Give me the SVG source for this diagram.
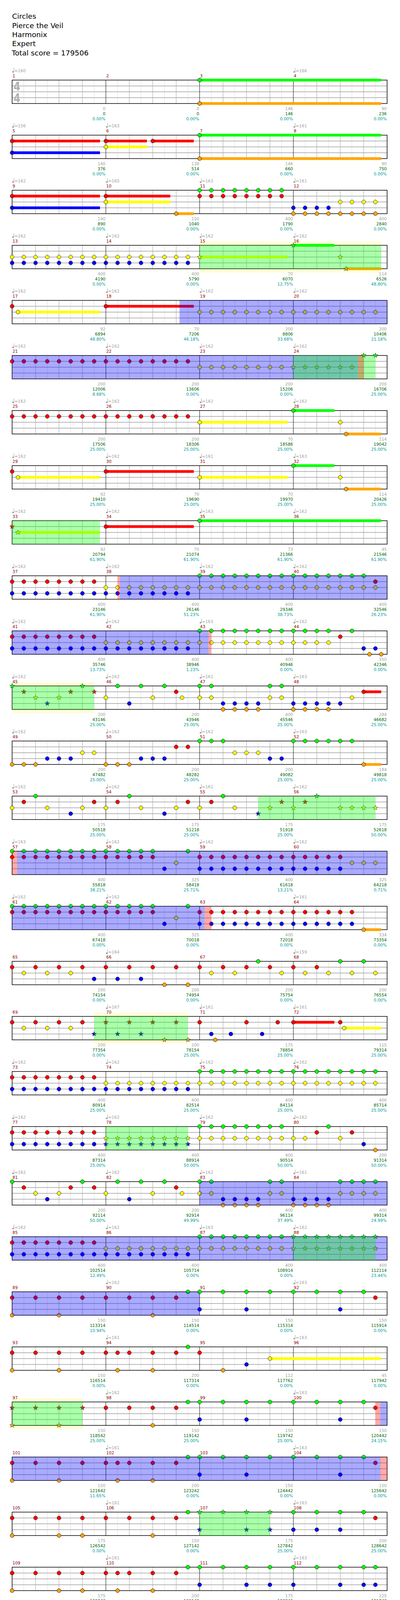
<svg xmlns="http://www.w3.org/2000/svg" width="1024" height="5563" viewBox="0 0 1024 5563">
<style>
text{font-family:"DejaVu Sans",Verdana,sans-serif;font-size:10.5px}
.h{font-size:18.5px;fill:#000}
.ts{font-size:32px;fill:#b0b0b0;font-weight:bold}
.t{fill:#a0a0a0}
.m{fill:#8b0000}
.a{fill:#a0a0a0;text-anchor:end}
.b{fill:#006400;text-anchor:end}
.c{fill:#009b9b;text-anchor:end}
.G{fill:#0f0}.R{fill:#f00}.Y{fill:#ff0}.B{fill:#00f}.O{fill:#ffa500}
.pG{fill:url(#pG)}.pR{fill:url(#pR)}.pY{fill:url(#pY)}.pB{fill:url(#pB)}.pO{fill:url(#pO)}
.xG{fill:url(#xG)}.xR{fill:url(#xR)}.xY{fill:url(#xY)}.xB{fill:url(#xB)}
.qR{fill:url(#qR)}.qG{fill:url(#qG)}
.og{fill:#0f0;fill-opacity:.333}.ob{fill:#00f;fill-opacity:.333}.op{fill:#f00;fill-opacity:.333}
.yb{fill:#ffffd7}
</style>
<defs>
<circle id="n" r="5" stroke="#000" stroke-width=".8"/>
<polygon id="s" points="0,-6.5 1.53,-2.1 6.18,-2.01 2.47,.8 3.82,5.26 0,2.6 -3.82,5.26 -2.47,.8 -6.18,-2.01 -1.53,-2.1" stroke="#000" stroke-width=".6"/>
<g id="q" fill="#a0a0a0"><ellipse cx="33.5" cy="-21" rx="2.6" ry="2"/><path d="M35.6 -31V-21" stroke="#a0a0a0"/></g>
<pattern id="pG" patternUnits="userSpaceOnUse" x="16" y="-7.5" width="30" height="15"><use href="#n" x="15" y="7.5" fill="#0f0"/></pattern>
<pattern id="pR" patternUnits="userSpaceOnUse" x="16" y="-7.5" width="30" height="15"><use href="#n" x="15" y="7.5" fill="#f00"/></pattern>
<pattern id="pY" patternUnits="userSpaceOnUse" x="16" y="-7.5" width="30" height="15"><use href="#n" x="15" y="7.5" fill="#ff0"/></pattern>
<pattern id="pB" patternUnits="userSpaceOnUse" x="16" y="-7.5" width="30" height="15"><use href="#n" x="15" y="7.5" fill="#00f"/></pattern>
<pattern id="pO" patternUnits="userSpaceOnUse" x="16" y="-7.5" width="30" height="15"><use href="#n" x="15" y="7.5" fill="#ffa500"/></pattern>
<pattern id="xG" patternUnits="userSpaceOnUse" x="16" y="-7.5" width="30" height="15"><use href="#s" x="15" y="7.5" fill="#0f0"/></pattern>
<pattern id="xR" patternUnits="userSpaceOnUse" x="16" y="-7.5" width="30" height="15"><use href="#s" x="15" y="7.5" fill="#f00"/></pattern>
<pattern id="xY" patternUnits="userSpaceOnUse" x="16" y="-7.5" width="30" height="15"><use href="#s" x="15" y="7.5" fill="#ff0"/></pattern>
<pattern id="xB" patternUnits="userSpaceOnUse" x="16" y="-7.5" width="30" height="15"><use href="#s" x="15" y="7.5" fill="#00f"/></pattern>
<pattern id="qR" patternUnits="userSpaceOnUse" x="16" y="-7.5" width="60" height="15"><use href="#n" x="15" y="7.5" fill="#f00"/></pattern>
<pattern id="qG" patternUnits="userSpaceOnUse" x="16" y="-7.5" width="60" height="15"><use href="#n" x="15" y="7.5" fill="#0f0"/></pattern>
<g id="staff">
<rect x="31" width="960" height="60" fill="#fff"/>
<path stroke="#dcdcdc" d="M61 0V60M121 0V60M181 0V60M241 0V60M301 0V60M361 0V60M421 0V60M481 0V60M541 0V60M601 0V60M661 0V60M721 0V60M781 0V60M841 0V60M901 0V60M961 0V60"/>
<path stroke="#a0a0a0" d="M91 0V60M151 0V60M211 0V60M331 0V60M391 0V60M451 0V60M571 0V60M631 0V60M691 0V60M811 0V60M871 0V60M931 0V60"/>
<path stroke="#a0a0a0" stroke-width="1.3" d="M31 15H991M31 30H991M31 45H991"/>
<path stroke="#000" d="M271 0V60M511 0V60M751 0V60"/>
<rect x="31" width="960" height="60" fill="none" stroke="#000" stroke-width="1.5"/>
</g>
</defs>
<rect width="1024" height="5563" fill="#fff"/>
<g id="title">
<text class="h" x="31" y="48">Circles</text>
<text class="h" x="31" y="71.5">Pierce the Veil</text>
<text class="h" x="31" y="95">Harmonix</text>
<text class="h" x="31" y="118">Expert</text>
<text class="h" x="30" y="141.5">Total score = 179506</text>
</g>

<g id="row1" transform="translate(0,205)">
<use href="#staff"/>
<text class="ts" x="35" y="27" textLength="17" lengthAdjust="spacingAndGlyphs">4</text><text class="ts" x="35" y="57" textLength="17" lengthAdjust="spacingAndGlyphs">4</text>
<g class="G"><rect x="511" y="-3.5" width="465" height="7"/><use href="#n" x="511"/></g>
<g class="O" transform="translate(0,60)"><rect x="511" y="-3.5" width="465" height="7"/><use href="#n" x="511"/></g>
<use href="#q"/><use href="#q" x="720"/>
<text class="t" y="-20"><tspan x="37">=160</tspan><tspan x="757">=166</tspan></text>
<text class="m" y="-7"><tspan x="32">1</tspan><tspan x="272">2</tspan><tspan x="512">3</tspan><tspan x="752">4</tspan></text>
<text class="a" y="77"><tspan x="270">0</tspan><tspan x="510">0</tspan><tspan x="750">146</tspan><tspan x="990">90</tspan></text>
<text class="b" y="90"><tspan x="270">0</tspan><tspan x="510">0</tspan><tspan x="750">146</tspan><tspan x="990">236</tspan></text>
<text class="c" y="103"><tspan x="270">0.00%</tspan><tspan x="510">0.00%</tspan><tspan x="750">0.00%</tspan><tspan x="990">0.00%</tspan></text>
</g>

<g id="row2" transform="translate(0,346)">
<use href="#staff"/>
<g class="G"><rect x="511" y="-3.5" width="465" height="7"/><use href="#n" x="511"/></g>
<g class="R" transform="translate(0,15)"><rect x="31" y="-3.5" width="225" height="7"/><rect x="271" y="-3.5" width="105" height="7"/><rect x="391" y="-3.5" width="105" height="7"/><use href="#n" x="31"/><use href="#n" x="271"/><use href="#n" x="391"/></g>
<g class="Y" transform="translate(0,30)"><rect x="271" y="-3.5" width="105" height="7"/><use href="#n" x="271"/></g>
<g class="B" transform="translate(0,45)"><rect x="31" y="-3.5" width="225" height="7"/><use href="#n" x="31"/></g>
<g class="O" transform="translate(0,60)"><rect x="511" y="-3.5" width="465" height="7"/><use href="#n" x="511"/></g>
<use href="#q"/><use href="#q" x="240"/><use href="#q" x="720"/>
<text class="t" y="-20"><tspan x="37">=156</tspan><tspan x="277">=163</tspan><tspan x="757">=161</tspan></text>
<text class="m" y="-7"><tspan x="32">5</tspan><tspan x="272">6</tspan><tspan x="512">7</tspan><tspan x="752">8</tspan></text>
<text class="a" y="77"><tspan x="270">140</tspan><tspan x="510">138</tspan><tspan x="750">146</tspan><tspan x="990">90</tspan></text>
<text class="b" y="90"><tspan x="270">376</tspan><tspan x="510">514</tspan><tspan x="750">660</tspan><tspan x="990">750</tspan></text>
<text class="c" y="103"><tspan x="270">0.00%</tspan><tspan x="510">0.00%</tspan><tspan x="750">0.00%</tspan><tspan x="990">0.00%</tspan></text>
</g>

<g id="row3" transform="translate(0,487)">
<use href="#staff"/>
<g class="G"><rect class="pG" x="496" y="-7" width="240" height="14"/></g>
<g class="R" transform="translate(0,15)"><rect x="31" y="-3.5" width="225" height="7"/><rect x="271" y="-3.5" width="165" height="7"/><use href="#n" x="31"/><use href="#n" x="271"/><rect class="pR" x="496" y="-7" width="240" height="14"/></g>
<g class="Y" transform="translate(0,30)"><rect x="271" y="-3.5" width="165" height="7"/><use href="#n" x="271"/><rect class="pY" x="856" y="-7" width="120" height="14"/></g>
<g class="B" transform="translate(0,45)"><rect x="31" y="-3.5" width="225" height="7"/><use href="#n" x="31"/><rect class="pB" x="736" y="-7" width="120" height="14"/></g>
<g class="O" transform="translate(0,60)"><rect x="451" y="-3.5" width="45" height="7"/><use href="#n" x="451"/><rect class="pO" x="736" y="-7" width="240" height="14"/></g>
<use href="#q"/><use href="#q" x="240"/><use href="#q" x="480"/><use href="#q" x="720"/>
<text class="t" y="-20"><tspan x="37">=162</tspan><tspan x="277">=165</tspan><tspan x="517">=163</tspan><tspan x="757">=161</tspan></text>
<text class="m" y="-7"><tspan x="32">9</tspan><tspan x="272">10</tspan><tspan x="512">11</tspan><tspan x="752">12</tspan></text>
<text class="a" y="77"><tspan x="270">140</tspan><tspan x="510">150</tspan><tspan x="750">400</tspan><tspan x="990">400</tspan></text>
<text class="b" y="90"><tspan x="270">890</tspan><tspan x="510">1040</tspan><tspan x="750">1790</tspan><tspan x="990">2840</tspan></text>
<text class="c" y="103"><tspan x="270">0.00%</tspan><tspan x="510">0.00%</tspan><tspan x="750">0.00%</tspan><tspan x="990">0.00%</tspan></text>
</g>

<g id="row4" transform="translate(0,628)">
<rect class="yb" x="511" y="-10" width="465" height="80"/>
<use href="#staff"/>
<g class="G"><rect x="751" y="-3.5" width="105" height="7"/><use href="#s" x="751"/></g>
<g class="Y" transform="translate(0,30)"><rect class="pY" x="16" y="-7" width="480" height="14"/><rect x="511" y="-3.5" width="225" height="7"/><use href="#s" x="511"/><use href="#s" x="871"/></g>
<g class="B" transform="translate(0,45)"><rect class="pB" x="16" y="-7" width="480" height="14"/></g>
<g class="O" transform="translate(0,60)"><rect x="886" y="-3.5" width="90" height="7"/><use href="#s" x="886"/></g>
<rect class="og" x="511" width="465" height="60"/>
<use href="#q"/><use href="#q" x="240"/><use href="#q" x="480"/><use href="#q" x="720"/>
<text class="t" y="-20"><tspan x="37">=162</tspan><tspan x="277">=162</tspan><tspan x="517">=162</tspan><tspan x="757">=162</tspan></text>
<text class="m" y="-7"><tspan x="32">13</tspan><tspan x="272">14</tspan><tspan x="512">15</tspan><tspan x="752">16</tspan></text>
<text class="a" y="77"><tspan x="270">400</tspan><tspan x="510">400</tspan><tspan x="750">70</tspan><tspan x="990">114</tspan></text>
<text class="b" y="90"><tspan x="270">4190</tspan><tspan x="510">5790</tspan><tspan x="750">6070</tspan><tspan x="990">6526</tspan></text>
<text class="c" y="103"><tspan x="270">0.00%</tspan><tspan x="510">0.00%</tspan><tspan x="750">12.75%</tspan><tspan x="990">48.80%</tspan></text>
</g>

<g id="row5" transform="translate(0,769)">
<use href="#staff"/>
<g class="R" transform="translate(0,15)"><use href="#n" x="31"/><rect x="271" y="-3.5" width="225" height="7"/><use href="#n" x="271"/></g>
<g class="Y" transform="translate(0,30)"><rect x="46" y="-3.5" width="210" height="7"/><use href="#n" x="46"/><rect class="pY" x="496" y="-7" width="480" height="14"/></g>
<rect class="ob" x="459.5" width="531.5" height="60"/>
<use href="#q"/><use href="#q" x="240"/><use href="#q" x="480"/><use href="#q" x="720"/>
<text class="t" y="-20"><tspan x="37">=162</tspan><tspan x="277">=162</tspan><tspan x="517">=162</tspan><tspan x="757">=162</tspan></text>
<text class="m" y="-7"><tspan x="32">17</tspan><tspan x="272">18</tspan><tspan x="512">19</tspan><tspan x="752">20</tspan></text>
<text class="a" y="77"><tspan x="270">92</tspan><tspan x="510">70</tspan><tspan x="750">200</tspan><tspan x="990">200</tspan></text>
<text class="b" y="90"><tspan x="270">6894</tspan><tspan x="510">7206</tspan><tspan x="750">8806</tspan><tspan x="990">10406</tspan></text>
<text class="c" y="103"><tspan x="270">48.80%</tspan><tspan x="510">46.18%</tspan><tspan x="750">33.68%</tspan><tspan x="990">21.18%</tspan></text>
</g>

<g id="row6" transform="translate(0,910)">
<use href="#staff"/>
<g class="G"><use href="#s" x="931"/><use href="#s" x="961"/></g>
<g class="R" transform="translate(0,15)"><rect class="pR" x="16" y="-7" width="480" height="14"/></g>
<g class="Y" transform="translate(0,30)"><rect class="pY" x="496" y="-7" width="240" height="14"/><rect class="xY" x="736" y="-7" width="180" height="14"/></g>
<rect class="ob" x="31" width="885.6" height="60"/><rect class="og" x="751" width="210" height="60"/><rect class="op" x="916.6" width="14.4" height="60"/>
<use href="#q"/><use href="#q" x="240"/><use href="#q" x="480"/><use href="#q" x="720"/>
<text class="t" y="-20"><tspan x="37">=162</tspan><tspan x="277">=162</tspan><tspan x="517">=162</tspan><tspan x="757">=162</tspan></text>
<text class="m" y="-7"><tspan x="32">21</tspan><tspan x="272">22</tspan><tspan x="512">23</tspan><tspan x="752">24</tspan></text>
<text class="a" y="77"><tspan x="270">200</tspan><tspan x="510">200</tspan><tspan x="750">200</tspan><tspan x="990">200</tspan></text>
<text class="b" y="90"><tspan x="270">12006</tspan><tspan x="510">13606</tspan><tspan x="750">15206</tspan><tspan x="990">16706</tspan></text>
<text class="c" y="103"><tspan x="270">8.68%</tspan><tspan x="510">0.00%</tspan><tspan x="750">0.00%</tspan><tspan x="990">25.00%</tspan></text>
</g>

<g id="row7" transform="translate(0,1051)">
<use href="#staff"/>
<g class="G"><rect x="751" y="-3.5" width="105" height="7"/><use href="#n" x="751"/></g>
<g class="R" transform="translate(0,15)"><rect class="pR" x="16" y="-7" width="480" height="14"/></g>
<g class="Y" transform="translate(0,30)"><rect x="511" y="-3.5" width="225" height="7"/><use href="#n" x="511"/><use href="#n" x="871"/></g>
<g class="O" transform="translate(0,60)"><rect x="886" y="-3.5" width="90" height="7"/><use href="#n" x="886"/></g>
<use href="#q"/><use href="#q" x="240"/><use href="#q" x="480"/><use href="#q" x="720"/>
<text class="t" y="-20"><tspan x="37">=162</tspan><tspan x="277">=162</tspan><tspan x="517">=162</tspan><tspan x="757">=162</tspan></text>
<text class="m" y="-7"><tspan x="32">25</tspan><tspan x="272">26</tspan><tspan x="512">27</tspan><tspan x="752">28</tspan></text>
<text class="a" y="77"><tspan x="270">200</tspan><tspan x="510">200</tspan><tspan x="750">70</tspan><tspan x="990">114</tspan></text>
<text class="b" y="90"><tspan x="270">17506</tspan><tspan x="510">18306</tspan><tspan x="750">18586</tspan><tspan x="990">19042</tspan></text>
<text class="c" y="103"><tspan x="270">25.00%</tspan><tspan x="510">25.00%</tspan><tspan x="750">25.00%</tspan><tspan x="990">25.00%</tspan></text>
</g>

<g id="row8" transform="translate(0,1192)">
<use href="#staff"/>
<g class="G"><rect x="751" y="-3.5" width="105" height="7"/><use href="#n" x="751"/></g>
<g class="R" transform="translate(0,15)"><use href="#n" x="31"/><rect x="271" y="-3.5" width="225" height="7"/><use href="#n" x="271"/></g>
<g class="Y" transform="translate(0,30)"><rect x="46" y="-3.5" width="210" height="7"/><use href="#n" x="46"/><rect x="511" y="-3.5" width="225" height="7"/><use href="#n" x="511"/><use href="#n" x="871"/></g>
<g class="O" transform="translate(0,60)"><rect x="886" y="-3.5" width="90" height="7"/><use href="#n" x="886"/></g>
<use href="#q"/><use href="#q" x="240"/><use href="#q" x="480"/><use href="#q" x="720"/>
<text class="t" y="-20"><tspan x="37">=162</tspan><tspan x="277">=162</tspan><tspan x="517">=161</tspan><tspan x="757">=163</tspan></text>
<text class="m" y="-7"><tspan x="32">29</tspan><tspan x="272">30</tspan><tspan x="512">31</tspan><tspan x="752">32</tspan></text>
<text class="a" y="77"><tspan x="270">92</tspan><tspan x="510">70</tspan><tspan x="750">70</tspan><tspan x="990">114</tspan></text>
<text class="b" y="90"><tspan x="270">19410</tspan><tspan x="510">19690</tspan><tspan x="750">19970</tspan><tspan x="990">20426</tspan></text>
<text class="c" y="103"><tspan x="270">25.00%</tspan><tspan x="510">25.00%</tspan><tspan x="750">25.00%</tspan><tspan x="990">25.00%</tspan></text>
</g>

<g id="row9" transform="translate(0,1333)">
<use href="#staff"/>
<g class="G"><rect x="511" y="-3.5" width="465" height="7"/><use href="#n" x="511"/></g>
<g class="R" transform="translate(0,15)"><use href="#s" x="31"/><rect x="271" y="-3.5" width="225" height="7"/><use href="#n" x="271"/></g>
<g class="Y" transform="translate(0,30)"><rect x="46" y="-3.5" width="210" height="7"/><use href="#s" x="46"/></g>
<rect class="og" x="31" width="225" height="60"/>
<use href="#q"/><use href="#q" x="240"/><use href="#q" x="480"/><use href="#q" x="720"/>
<text class="t" y="-20"><tspan x="37">=162</tspan><tspan x="277">=162</tspan><tspan x="517">=163</tspan><tspan x="757">=162</tspan></text>
<text class="m" y="-7"><tspan x="32">33</tspan><tspan x="272">34</tspan><tspan x="512">35</tspan><tspan x="752">36</tspan></text>
<text class="a" y="77"><tspan x="270">92</tspan><tspan x="510">70</tspan><tspan x="750">73</tspan><tspan x="990">45</tspan></text>
<text class="b" y="90"><tspan x="270">20794</tspan><tspan x="510">21074</tspan><tspan x="750">21366</tspan><tspan x="990">21546</tspan></text>
<text class="c" y="103"><tspan x="270">61.90%</tspan><tspan x="510">61.90%</tspan><tspan x="750">61.90%</tspan><tspan x="990">61.90%</tspan></text>
</g>

<g id="row10" transform="translate(0,1474)">
<use href="#staff"/>
<g class="G"><rect class="pG" x="496" y="-7" width="450" height="14"/></g>
<g class="R" transform="translate(0,15)"><rect class="pR" x="16" y="-7" width="240" height="14"/><use href="#n" x="961"/></g>
<g class="Y" transform="translate(0,30)"><rect class="pY" x="256" y="-7" width="720" height="14"/></g>
<g class="B" transform="translate(0,45)"><rect class="pB" x="16" y="-7" width="480" height="14"/></g>
<rect class="op" x="301" width="6" height="60"/><rect class="ob" x="307" width="684" height="60"/>
<use href="#q"/><use href="#q" x="240"/><use href="#q" x="480"/><use href="#q" x="720"/>
<text class="t" y="-20"><tspan x="37">=162</tspan><tspan x="277">=162</tspan><tspan x="517">=162</tspan><tspan x="757">=162</tspan></text>
<text class="m" y="-7"><tspan x="32">37</tspan><tspan x="272">38</tspan><tspan x="512">39</tspan><tspan x="752">40</tspan></text>
<text class="a" y="77"><tspan x="270">400</tspan><tspan x="510">400</tspan><tspan x="750">400</tspan><tspan x="990">400</tspan></text>
<text class="b" y="90"><tspan x="270">23146</tspan><tspan x="510">26146</tspan><tspan x="750">29346</tspan><tspan x="990">32546</tspan></text>
<text class="c" y="103"><tspan x="270">61.90%</tspan><tspan x="510">51.23%</tspan><tspan x="750">38.73%</tspan><tspan x="990">26.23%</tspan></text>
</g>

<g id="row11" transform="translate(0,1615)">
<use href="#staff"/>
<g class="G"><rect class="pG" x="496" y="-7" width="360" height="14"/><use href="#n" x="901"/></g>
<g class="R" transform="translate(0,15)"><rect class="pR" x="16" y="-7" width="240" height="14"/><use href="#n" x="871"/></g>
<g class="Y" transform="translate(0,30)"><rect class="pY" x="256" y="-7" width="600" height="14"/></g>
<g class="B" transform="translate(0,45)"><rect class="pB" x="16" y="-7" width="480" height="14"/><use href="#n" x="931"/><use href="#n" x="961"/></g>
<g class="O" transform="translate(0,60)"><use href="#n" x="946"/><use href="#n" x="976"/></g>
<rect class="ob" x="31" width="502.8" height="60"/><rect class="op" x="533.8" width="7.2" height="60"/>
<use href="#q"/><use href="#q" x="240"/><use href="#q" x="480"/><use href="#q" x="720"/>
<text class="t" y="-20"><tspan x="37">=162</tspan><tspan x="277">=162</tspan><tspan x="517">=163</tspan><tspan x="757">=162</tspan></text>
<text class="m" y="-7"><tspan x="32">41</tspan><tspan x="272">42</tspan><tspan x="512">43</tspan><tspan x="752">44</tspan></text>
<text class="a" y="77"><tspan x="270">400</tspan><tspan x="510">400</tspan><tspan x="750">400</tspan><tspan x="990">350</tspan></text>
<text class="b" y="90"><tspan x="270">35746</tspan><tspan x="510">38946</tspan><tspan x="750">40946</tspan><tspan x="990">42346</tspan></text>
<text class="c" y="103"><tspan x="270">13.73%</tspan><tspan x="510">1.23%</tspan><tspan x="750">0.00%</tspan><tspan x="990">0.00%</tspan></text>
</g>

<g id="row12" transform="translate(0,1756)">
<rect class="yb" x="31" y="-10" width="210" height="80"/>
<use href="#staff"/>
<g class="G"><use href="#s" x="31"/><use href="#s" x="211"/><use href="#n" x="301"/><use href="#n" x="361"/><use href="#n" x="421"/><use href="#n" x="511"/><use href="#n" x="541"/><use href="#n" x="691"/><use href="#n" x="721"/></g>
<g class="R" transform="translate(0,15)"><use href="#s" x="61"/><use href="#s" x="181"/><use href="#s" x="241"/><use href="#n" x="451"/><rect x="931" y="-3.5" width="45" height="7"/><use href="#n" x="931"/></g>
<g class="Y" transform="translate(0,30)"><use href="#s" x="91"/><use href="#s" x="151"/><use href="#n" x="271"/><use href="#n" x="391"/><use href="#n" x="466"/><use href="#n" x="511"/><use href="#n" x="541"/><use href="#n" x="691"/><use href="#n" x="721"/><use href="#n" x="901"/></g>
<g class="B" transform="translate(0,45)"><use href="#s" x="121"/><use href="#n" x="331"/><rect class="pB" x="556" y="-7" width="120" height="14"/><rect class="pB" x="736" y="-7" width="150" height="14"/></g>
<g class="O" transform="translate(0,60)"><rect class="pO" x="556" y="-7" width="120" height="14"/><rect class="pO" x="736" y="-7" width="120" height="14"/></g>
<rect class="og" x="31" width="210" height="60"/>
<use href="#q"/><use href="#q" x="240"/><use href="#q" x="480"/><use href="#q" x="720"/>
<text class="t" y="-20"><tspan x="37">=162</tspan><tspan x="277">=162</tspan><tspan x="517">=161</tspan><tspan x="757">=163</tspan></text>
<text class="m" y="-7"><tspan x="32">45</tspan><tspan x="272">46</tspan><tspan x="512">47</tspan><tspan x="752">48</tspan></text>
<text class="a" y="77"><tspan x="270">200</tspan><tspan x="510">200</tspan><tspan x="750">400</tspan><tspan x="990">284</tspan></text>
<text class="b" y="90"><tspan x="270">43146</tspan><tspan x="510">43946</tspan><tspan x="750">45546</tspan><tspan x="990">46682</tspan></text>
<text class="c" y="103"><tspan x="270">25.00%</tspan><tspan x="510">25.00%</tspan><tspan x="750">25.00%</tspan><tspan x="990">25.00%</tspan></text>
</g>

<g id="row13" transform="translate(0,1897)">
<use href="#staff"/>
<g class="G"><rect class="pG" x="496" y="-7" width="90" height="14"/><rect class="pG" x="736" y="-7" width="180" height="14"/></g>
<g class="R" transform="translate(0,15)"><rect class="pR" x="436" y="-7" width="60" height="14"/></g>
<g class="Y" transform="translate(0,30)"><rect class="pY" x="196" y="-7" width="60" height="14"/><rect class="pY" x="586" y="-7" width="90" height="14"/></g>
<g class="B" transform="translate(0,45)"><rect class="pB" x="106" y="-7" width="90" height="14"/><rect class="pB" x="346" y="-7" width="90" height="14"/><rect class="pB" x="676" y="-7" width="60" height="14"/></g>
<g class="O" transform="translate(0,60)"><rect class="pO" x="16" y="-7" width="90" height="14"/><rect class="pO" x="256" y="-7" width="90" height="14"/><rect x="931" y="-3.5" width="45" height="7"/><use href="#n" x="931"/></g>
<use href="#q"/><use href="#q" x="240"/><use href="#q" x="480"/><use href="#q" x="720"/>
<text class="t" y="-20"><tspan x="37">=162</tspan><tspan x="277">=162</tspan><tspan x="517">=162</tspan><tspan x="757">=163</tspan></text>
<text class="m" y="-7"><tspan x="32">49</tspan><tspan x="272">50</tspan><tspan x="512">51</tspan><tspan x="752">52</tspan></text>
<text class="a" y="77"><tspan x="270">200</tspan><tspan x="510">200</tspan><tspan x="750">200</tspan><tspan x="990">184</tspan></text>
<text class="b" y="90"><tspan x="270">47482</tspan><tspan x="510">48282</tspan><tspan x="750">49082</tspan><tspan x="990">49818</tspan></text>
<text class="c" y="103"><tspan x="270">25.00%</tspan><tspan x="510">25.00%</tspan><tspan x="750">25.00%</tspan><tspan x="990">25.00%</tspan></text>
</g>

<g id="row14" transform="translate(0,2038)">
<use href="#staff"/>
<g class="G"><use href="#n" x="91"/><use href="#n" x="331"/><use href="#n" x="571"/><use href="#s" x="811"/></g>
<g class="R" transform="translate(0,15)"><use href="#n" x="61"/><use href="#n" x="241"/><use href="#n" x="301"/><use href="#n" x="481"/><use href="#n" x="541"/><use href="#s" x="721"/><use href="#s" x="781"/></g>
<g class="Y" transform="translate(0,30)"><use href="#n" x="31"/><use href="#n" x="121"/><use href="#n" x="211"/><use href="#n" x="271"/><use href="#n" x="361"/><use href="#n" x="451"/><use href="#n" x="511"/><use href="#n" x="601"/><use href="#s" x="691"/><use href="#s" x="751"/><use href="#s" x="871"/><use href="#s" x="901"/><use href="#s" x="931"/><use href="#s" x="961"/></g>
<g class="B" transform="translate(0,45)"><use href="#n" x="181"/><use href="#n" x="421"/><use href="#s" x="661"/></g>
<rect class="og" x="661" width="300" height="60"/>
<use href="#q"/><use href="#q" x="240"/><use href="#q" x="480"/><use href="#q" x="720"/>
<text class="t" y="-20"><tspan x="37">=162</tspan><tspan x="277">=162</tspan><tspan x="517">=161</tspan><tspan x="757">=162</tspan></text>
<text class="m" y="-7"><tspan x="32">53</tspan><tspan x="272">54</tspan><tspan x="512">55</tspan><tspan x="752">56</tspan></text>
<text class="a" y="77"><tspan x="270">175</tspan><tspan x="510">175</tspan><tspan x="750">175</tspan><tspan x="990">175</tspan></text>
<text class="b" y="90"><tspan x="270">50518</tspan><tspan x="510">51218</tspan><tspan x="750">51918</tspan><tspan x="990">52618</tspan></text>
<text class="c" y="103"><tspan x="270">25.00%</tspan><tspan x="510">25.00%</tspan><tspan x="750">25.00%</tspan><tspan x="990">50.00%</tspan></text>
</g>

<g id="row15" transform="translate(0,2179)">
<use href="#staff"/>
<g class="G"><rect class="pG" x="16" y="-7" width="390" height="14"/><use href="#n" x="481"/></g>
<g class="R" transform="translate(0,15)"><rect class="pR" x="16" y="-7" width="390" height="14"/><rect class="pR" x="496" y="-7" width="390" height="14"/></g>
<g class="Y" transform="translate(0,30)"><use href="#n" x="451"/><rect class="pY" x="886" y="-7" width="90" height="14"/></g>
<g class="B" transform="translate(0,45)"><use href="#n" x="421"/><rect class="pB" x="496" y="-7" width="390" height="14"/></g>
<rect class="op" x="31" width="13" height="60"/><rect class="ob" x="44" width="947" height="60"/>
<use href="#q"/><use href="#q" x="240"/><use href="#q" x="480"/><use href="#q" x="720"/>
<text class="t" y="-20"><tspan x="37">=163</tspan><tspan x="277">=162</tspan><tspan x="517">=162</tspan><tspan x="757">=162</tspan></text>
<text class="m" y="-7"><tspan x="32">57</tspan><tspan x="272">58</tspan><tspan x="512">59</tspan><tspan x="752">60</tspan></text>
<text class="a" y="77"><tspan x="270">400</tspan><tspan x="510">325</tspan><tspan x="750">400</tspan><tspan x="990">325</tspan></text>
<text class="b" y="90"><tspan x="270">55818</tspan><tspan x="510">58418</tspan><tspan x="750">61618</tspan><tspan x="990">64218</tspan></text>
<text class="c" y="103"><tspan x="270">38.21%</tspan><tspan x="510">25.71%</tspan><tspan x="750">13.21%</tspan><tspan x="990">0.71%</tspan></text>
</g>

<g id="row16" transform="translate(0,2320)">
<use href="#staff"/>
<g class="G"><rect class="pG" x="16" y="-7" width="390" height="14"/><use href="#n" x="481"/></g>
<g class="R" transform="translate(0,15)"><rect class="pR" x="16" y="-7" width="390" height="14"/><rect class="pR" x="496" y="-7" width="420" height="14"/></g>
<g class="Y" transform="translate(0,30)"><use href="#n" x="451"/></g>
<g class="B" transform="translate(0,45)"><use href="#n" x="421"/><rect class="pB" x="496" y="-7" width="420" height="14"/></g>
<g class="O" transform="translate(0,60)"><rect x="931" y="-3.5" width="45" height="7"/><use href="#n" x="931"/></g>
<rect class="ob" x="31" width="492.5" height="60"/><rect class="op" x="523.5" width="17.5" height="60"/>
<use href="#q"/><use href="#q" x="240"/><use href="#q" x="720"/>
<text class="t" y="-20"><tspan x="37">=162</tspan><tspan x="277">=162</tspan><tspan x="757">=161</tspan></text>
<text class="m" y="-7"><tspan x="32">61</tspan><tspan x="272">62</tspan><tspan x="512">63</tspan><tspan x="752">64</tspan></text>
<text class="a" y="77"><tspan x="270">400</tspan><tspan x="510">325</tspan><tspan x="750">400</tspan><tspan x="990">334</tspan></text>
<text class="b" y="90"><tspan x="270">67418</tspan><tspan x="510">70018</tspan><tspan x="750">72018</tspan><tspan x="990">73354</tspan></text>
<text class="c" y="103"><tspan x="270">0.00%</tspan><tspan x="510">0.00%</tspan><tspan x="750">0.00%</tspan><tspan x="990">0.00%</tspan></text>
</g>

<g id="row17" transform="translate(0,2461)">
<use href="#staff"/>
<g class="G"><use href="#n" x="661"/><use href="#n" x="871"/><use href="#n" x="931"/></g>
<g class="R" transform="translate(0,15)"><rect class="qR" x="16" y="-7" width="810" height="14"/></g>
<g class="Y" transform="translate(0,30)"><use href="#n" x="61"/><use href="#n" x="121"/><use href="#n" x="181"/><use href="#n" x="541"/><use href="#n" x="601"/><use href="#n" x="721"/><use href="#n" x="781"/><use href="#n" x="841"/><use href="#n" x="901"/><use href="#n" x="961"/></g>
<g class="B" transform="translate(0,45)"><use href="#n" x="241"/><use href="#n" x="301"/><use href="#n" x="361"/></g>
<g class="O" transform="translate(0,60)"><use href="#n" x="421"/><use href="#n" x="481"/></g>
<use href="#q" x="240"/><use href="#q" x="720"/>
<text class="t" y="-20"><tspan x="277">=164</tspan><tspan x="757">=159</tspan></text>
<text class="m" y="-7"><tspan x="32">65</tspan><tspan x="272">66</tspan><tspan x="512">67</tspan><tspan x="752">68</tspan></text>
<text class="a" y="77"><tspan x="270">200</tspan><tspan x="510">200</tspan><tspan x="750">200</tspan><tspan x="990">200</tspan></text>
<text class="b" y="90"><tspan x="270">74154</tspan><tspan x="510">74954</tspan><tspan x="750">75754</tspan><tspan x="990">76554</tspan></text>
<text class="c" y="103"><tspan x="270">0.00%</tspan><tspan x="510">0.00%</tspan><tspan x="750">0.00%</tspan><tspan x="990">0.00%</tspan></text>
</g>

<g id="row18" transform="translate(0,2602)">
<rect class="yb" x="241" y="-10" width="240" height="80"/>
<use href="#staff"/>
<g class="R" transform="translate(0,15)"><use href="#n" x="31"/><use href="#n" x="91"/><use href="#n" x="151"/><use href="#n" x="211"/><use href="#s" x="271"/><use href="#s" x="331"/><use href="#s" x="391"/><use href="#s" x="451"/><use href="#n" x="511"/><use href="#n" x="631"/><use href="#n" x="711"/><rect x="751" y="-3.5" width="105" height="7"/><use href="#n" x="751"/><use href="#n" x="871"/></g>
<g class="Y" transform="translate(0,30)"><use href="#n" x="61"/><use href="#n" x="121"/><use href="#n" x="181"/><rect x="881" y="-3.5" width="95" height="7"/><use href="#n" x="881"/></g>
<g class="B" transform="translate(0,45)"><use href="#s" x="241"/><use href="#s" x="301"/><use href="#s" x="361"/><use href="#n" x="541"/><use href="#n" x="591"/><use href="#n" x="671"/></g>
<g class="O" transform="translate(0,60)"><use href="#s" x="421"/><use href="#s" x="481"/><use href="#n" x="551"/></g>
<rect class="og" x="241" width="240" height="60"/>
<use href="#q" x="240"/><use href="#q" x="480"/><use href="#q" x="720"/>
<text class="t" y="-20"><tspan x="277">=167</tspan><tspan x="517">=161</tspan><tspan x="757">=161</tspan></text>
<text class="m" y="-7"><tspan x="32">69</tspan><tspan x="272">70</tspan><tspan x="512">71</tspan><tspan x="752">72</tspan></text>
<text class="a" y="77"><tspan x="270">200</tspan><tspan x="510">200</tspan><tspan x="750">175</tspan><tspan x="990">115</tspan></text>
<text class="b" y="90"><tspan x="270">77354</tspan><tspan x="510">78154</tspan><tspan x="750">78854</tspan><tspan x="990">79314</tspan></text>
<text class="c" y="103"><tspan x="270">0.00%</tspan><tspan x="510">25.00%</tspan><tspan x="750">25.00%</tspan><tspan x="990">25.00%</tspan></text>
</g>

<g id="row19" transform="translate(0,2743)">
<use href="#staff"/>
<g class="G"><rect class="pG" x="496" y="-7" width="480" height="14"/></g>
<g class="R" transform="translate(0,15)"><rect class="pR" x="16" y="-7" width="240" height="14"/></g>
<g class="Y" transform="translate(0,30)"><rect class="pY" x="256" y="-7" width="720" height="14"/></g>
<g class="B" transform="translate(0,45)"><rect class="pB" x="16" y="-7" width="480" height="14"/></g>
<use href="#q"/><use href="#q" x="240"/><use href="#q" x="480"/><use href="#q" x="720"/>
<text class="t" y="-20"><tspan x="37">=162</tspan><tspan x="277">=162</tspan><tspan x="517">=162</tspan><tspan x="757">=162</tspan></text>
<text class="m" y="-7"><tspan x="32">73</tspan><tspan x="272">74</tspan><tspan x="512">75</tspan><tspan x="752">76</tspan></text>
<text class="a" y="77"><tspan x="270">400</tspan><tspan x="510">400</tspan><tspan x="750">400</tspan><tspan x="990">400</tspan></text>
<text class="b" y="90"><tspan x="270">80914</tspan><tspan x="510">82514</tspan><tspan x="750">84114</tspan><tspan x="990">85714</tspan></text>
<text class="c" y="103"><tspan x="270">25.00%</tspan><tspan x="510">25.00%</tspan><tspan x="750">25.00%</tspan><tspan x="990">25.00%</tspan></text>
</g>

<g id="row20" transform="translate(0,2884)">
<use href="#staff"/>
<g class="G"><rect class="pG" x="496" y="-7" width="240" height="14"/><use href="#n" x="841"/></g>
<g class="R" transform="translate(0,15)"><rect class="pR" x="16" y="-7" width="240" height="14"/><use href="#n" x="811"/><use href="#n" x="901"/></g>
<g class="Y" transform="translate(0,30)"><rect class="xY" x="256" y="-7" width="240" height="14"/><rect class="pY" x="496" y="-7" width="300" height="14"/><use href="#n" x="871"/></g>
<g class="B" transform="translate(0,45)"><rect class="pB" x="16" y="-7" width="240" height="14"/><rect class="xB" x="256" y="-7" width="240" height="14"/><use href="#n" x="931"/></g>
<g class="O" transform="translate(0,60)"><use href="#n" x="961"/></g>
<rect class="og" x="271" width="210" height="60"/>
<use href="#q"/><use href="#q" x="240"/><use href="#q" x="480"/><use href="#q" x="720"/>
<text class="t" y="-20"><tspan x="37">=162</tspan><tspan x="277">=162</tspan><tspan x="517">=162</tspan><tspan x="757">=162</tspan></text>
<text class="m" y="-7"><tspan x="32">77</tspan><tspan x="272">78</tspan><tspan x="512">79</tspan><tspan x="752">80</tspan></text>
<text class="a" y="77"><tspan x="270">400</tspan><tspan x="510">400</tspan><tspan x="750">400</tspan><tspan x="990">200</tspan></text>
<text class="b" y="90"><tspan x="270">87314</tspan><tspan x="510">88914</tspan><tspan x="750">90514</tspan><tspan x="990">91314</tspan></text>
<text class="c" y="103"><tspan x="270">25.00%</tspan><tspan x="510">50.00%</tspan><tspan x="750">50.00%</tspan><tspan x="990">50.00%</tspan></text>
</g>

<g id="row21" transform="translate(0,3025)">
<use href="#staff"/>
<g class="G"><use href="#n" x="31"/><use href="#n" x="211"/><use href="#n" x="301"/><use href="#n" x="361"/><use href="#n" x="421"/><use href="#n" x="511"/><use href="#n" x="541"/><use href="#n" x="691"/><use href="#n" x="721"/><rect class="pG" x="856" y="-7" width="120" height="14"/></g>
<g class="R" transform="translate(0,15)"><use href="#n" x="61"/><use href="#n" x="181"/><use href="#n" x="241"/><use href="#n" x="451"/></g>
<g class="Y" transform="translate(0,30)"><use href="#n" x="91"/><use href="#n" x="151"/><use href="#n" x="271"/><use href="#n" x="391"/><use href="#n" x="466"/><use href="#n" x="511"/><use href="#n" x="541"/><use href="#n" x="691"/><use href="#n" x="721"/><rect class="pY" x="856" y="-7" width="120" height="14"/></g>
<g class="B" transform="translate(0,45)"><use href="#n" x="121"/><use href="#n" x="331"/><rect class="pB" x="556" y="-7" width="120" height="14"/><rect class="pB" x="736" y="-7" width="120" height="14"/></g>
<g class="O" transform="translate(0,60)"><rect class="pO" x="556" y="-7" width="120" height="14"/><rect class="pO" x="736" y="-7" width="120" height="14"/></g>
<rect class="ob" x="511" width="480" height="60"/>
<use href="#q"/><use href="#q" x="240"/><use href="#q" x="480"/><use href="#q" x="720"/>
<text class="t" y="-20"><tspan x="37">=162</tspan><tspan x="277">=162</tspan><tspan x="517">=162</tspan><tspan x="757">=161</tspan></text>
<text class="m" y="-7"><tspan x="32">81</tspan><tspan x="272">82</tspan><tspan x="512">83</tspan><tspan x="752">84</tspan></text>
<text class="a" y="77"><tspan x="270">200</tspan><tspan x="510">200</tspan><tspan x="750">400</tspan><tspan x="990">400</tspan></text>
<text class="b" y="90"><tspan x="270">92114</tspan><tspan x="510">92914</tspan><tspan x="750">96114</tspan><tspan x="990">99314</tspan></text>
<text class="c" y="103"><tspan x="270">50.00%</tspan><tspan x="510">49.99%</tspan><tspan x="750">37.49%</tspan><tspan x="990">24.99%</tspan></text>
</g>

<g id="row22" transform="translate(0,3166)">
<use href="#staff"/>
<g class="G"><rect class="pG" x="496" y="-7" width="240" height="14"/><rect class="xG" x="736" y="-7" width="240" height="14"/></g>
<g class="R" transform="translate(0,15)"><rect class="pR" x="16" y="-7" width="240" height="14"/></g>
<g class="Y" transform="translate(0,30)"><rect class="pY" x="256" y="-7" width="480" height="14"/><rect class="xY" x="736" y="-7" width="240" height="14"/></g>
<g class="B" transform="translate(0,45)"><rect class="pB" x="16" y="-7" width="480" height="14"/></g>
<rect class="ob" x="31" width="960" height="60"/><rect class="og" x="751" width="210" height="60"/>
<use href="#q"/><use href="#q" x="240"/><use href="#q" x="480"/><use href="#q" x="720"/>
<text class="t" y="-20"><tspan x="37">=162</tspan><tspan x="277">=162</tspan><tspan x="517">=163</tspan><tspan x="757">=162</tspan></text>
<text class="m" y="-7"><tspan x="32">85</tspan><tspan x="272">86</tspan><tspan x="512">87</tspan><tspan x="752">88</tspan></text>
<text class="a" y="77"><tspan x="270">400</tspan><tspan x="510">400</tspan><tspan x="750">400</tspan><tspan x="990">400</tspan></text>
<text class="b" y="90"><tspan x="270">102514</tspan><tspan x="510">105714</tspan><tspan x="750">108914</tspan><tspan x="990">112114</tspan></text>
<text class="c" y="103"><tspan x="270">12.49%</tspan><tspan x="510">0.00%</tspan><tspan x="750">0.00%</tspan><tspan x="990">23.44%</tspan></text>
</g>

<g id="row23" transform="translate(0,3307)">
<use href="#staff"/>
<g class="G"><use href="#n" x="481"/><rect class="qG" x="496" y="-7" width="450" height="14"/></g>
<g class="R" transform="translate(0,15)"><rect class="qR" x="16" y="-7" width="450" height="14"/><use href="#n" x="961"/></g>
<g class="B" transform="translate(0,45)"><use href="#n" x="511"/><use href="#n" x="631"/><use href="#n" x="871"/></g>
<g class="O" transform="translate(0,60)"><use href="#n" x="31"/><use href="#n" x="151"/><use href="#n" x="391"/></g>
<rect class="ob" x="31" width="480" height="60"/>
<use href="#q" x="240"/><use href="#q" x="720"/>
<text class="t" y="-20"><tspan x="277">=162</tspan><tspan x="757">=163</tspan></text>
<text class="m" y="-7"><tspan x="32">89</tspan><tspan x="272">90</tspan><tspan x="512">91</tspan><tspan x="752">92</tspan></text>
<text class="a" y="77"><tspan x="270">150</tspan><tspan x="510">150</tspan><tspan x="750">150</tspan><tspan x="990">150</tspan></text>
<text class="b" y="90"><tspan x="270">113314</tspan><tspan x="510">114514</tspan><tspan x="750">115314</tspan><tspan x="990">115914</tspan></text>
<text class="c" y="103"><tspan x="270">10.94%</tspan><tspan x="510">0.00%</tspan><tspan x="750">0.00%</tspan><tspan x="990">0.00%</tspan></text>
</g>

<g id="row24" transform="translate(0,3448)">
<use href="#staff"/>
<g class="G"><use href="#n" x="481"/></g>
<g class="R" transform="translate(0,15)"><use href="#n" x="31"/><use href="#n" x="91"/><use href="#n" x="151"/><use href="#n" x="211"/><use href="#n" x="271"/><use href="#n" x="301"/><use href="#n" x="331"/><use href="#n" x="391"/><use href="#n" x="451"/><use href="#n" x="511"/></g>
<g class="Y" transform="translate(0,30)"><rect x="691" y="-3.5" width="285" height="7"/><use href="#n" x="691"/></g>
<g class="B" transform="translate(0,45)"><use href="#n" x="631"/></g>
<g class="O" transform="translate(0,60)"><use href="#n" x="31"/><use href="#n" x="151"/><use href="#n" x="301"/><use href="#n" x="391"/><use href="#n" x="571"/></g>
<use href="#q" x="240"/><use href="#q" x="720"/>
<text class="t" y="-20"><tspan x="277">=161</tspan><tspan x="757">=163</tspan></text>
<text class="m" y="-7"><tspan x="32">93</tspan><tspan x="272">94</tspan><tspan x="512">95</tspan><tspan x="752">96</tspan></text>
<text class="a" y="77"><tspan x="270">150</tspan><tspan x="510">200</tspan><tspan x="750">112</tspan><tspan x="990">45</tspan></text>
<text class="b" y="90"><tspan x="270">116514</tspan><tspan x="510">117314</tspan><tspan x="750">117762</tspan><tspan x="990">117942</tspan></text>
<text class="c" y="103"><tspan x="270">0.00%</tspan><tspan x="510">0.00%</tspan><tspan x="750">0.00%</tspan><tspan x="990">0.00%</tspan></text>
</g>

<g id="row25" transform="translate(0,3589)">
<rect class="yb" x="31" y="-10" width="180" height="80"/>
<use href="#staff"/>
<g class="G"><use href="#n" x="481"/><rect class="qG" x="496" y="-7" width="450" height="14"/></g>
<g class="R" transform="translate(0,15)"><use href="#s" x="31"/><use href="#s" x="91"/><use href="#s" x="151"/><use href="#s" x="211"/><use href="#n" x="271"/><use href="#n" x="331"/><use href="#n" x="391"/><use href="#n" x="451"/><use href="#n" x="961"/></g>
<g class="B" transform="translate(0,45)"><use href="#n" x="511"/><use href="#n" x="631"/><use href="#n" x="871"/></g>
<g class="O" transform="translate(0,60)"><use href="#s" x="31"/><use href="#s" x="151"/><use href="#n" x="391"/></g>
<rect class="og" x="31" width="180" height="60"/><rect class="op" x="961" width="13" height="60"/><rect class="ob" x="974" width="17" height="60"/>
<use href="#q" x="240"/><use href="#q" x="720"/>
<text class="t" y="-20"><tspan x="277">=162</tspan><tspan x="757">=163</tspan></text>
<text class="m" y="-7"><tspan x="32">97</tspan><tspan x="272">98</tspan><tspan x="512">99</tspan><tspan x="752">100</tspan></text>
<text class="a" y="77"><tspan x="270">150</tspan><tspan x="510">150</tspan><tspan x="750">150</tspan><tspan x="990">150</tspan></text>
<text class="b" y="90"><tspan x="270">118542</tspan><tspan x="510">119142</tspan><tspan x="750">119742</tspan><tspan x="990">120442</tspan></text>
<text class="c" y="103"><tspan x="270">25.00%</tspan><tspan x="510">25.00%</tspan><tspan x="750">25.00%</tspan><tspan x="990">24.15%</tspan></text>
</g>

<g id="row26" transform="translate(0,3730)">
<use href="#staff"/>
<g class="G"><use href="#n" x="481"/><rect class="qG" x="496" y="-7" width="450" height="14"/></g>
<g class="R" transform="translate(0,15)"><use href="#n" x="31"/><use href="#n" x="91"/><use href="#n" x="151"/><use href="#n" x="211"/><use href="#n" x="271"/><use href="#n" x="301"/><use href="#n" x="331"/><use href="#n" x="391"/><use href="#n" x="451"/><use href="#n" x="961"/></g>
<g class="B" transform="translate(0,45)"><use href="#n" x="511"/><use href="#n" x="631"/><use href="#n" x="871"/></g>
<g class="O" transform="translate(0,60)"><use href="#n" x="31"/><use href="#n" x="151"/><use href="#n" x="301"/><use href="#n" x="391"/></g>
<rect class="ob" x="31" width="943" height="60"/><rect class="op" x="974" width="17" height="60"/>
<use href="#q" x="240"/><use href="#q" x="720"/>
<text class="t" y="-20"><tspan x="277">=161</tspan><tspan x="757">=163</tspan></text>
<text class="m" y="-7"><tspan x="32">101</tspan><tspan x="272">102</tspan><tspan x="512">103</tspan><tspan x="752">104</tspan></text>
<text class="a" y="77"><tspan x="270">150</tspan><tspan x="510">200</tspan><tspan x="750">150</tspan><tspan x="990">150</tspan></text>
<text class="b" y="90"><tspan x="270">121642</tspan><tspan x="510">123242</tspan><tspan x="750">124442</tspan><tspan x="990">125642</tspan></text>
<text class="c" y="103"><tspan x="270">11.65%</tspan><tspan x="510">0.00%</tspan><tspan x="750">0.00%</tspan><tspan x="990">0.00%</tspan></text>
</g>

<g id="row27" transform="translate(0,3871)">
<use href="#staff"/>
<g class="G"><use href="#n" x="481"/><use href="#s" x="511"/><use href="#s" x="571"/><use href="#s" x="631"/><use href="#s" x="691"/><use href="#n" x="751"/><use href="#n" x="811"/><use href="#n" x="871"/><use href="#n" x="931"/></g>
<g class="R" transform="translate(0,15)"><rect class="qR" x="16" y="-7" width="450" height="14"/><use href="#n" x="961"/></g>
<g class="B" transform="translate(0,45)"><use href="#s" x="511"/><use href="#s" x="631"/><use href="#s" x="691"/><use href="#n" x="751"/><use href="#n" x="811"/><use href="#n" x="871"/></g>
<g class="O" transform="translate(0,60)"><use href="#n" x="31"/><use href="#n" x="151"/><use href="#n" x="211"/><use href="#n" x="391"/></g>
<rect class="og" x="511" width="180" height="60"/>
<use href="#q" x="240"/><use href="#q" x="720"/>
<text class="t" y="-20"><tspan x="277">=161</tspan><tspan x="757">=163</tspan></text>
<text class="m" y="-7"><tspan x="32">105</tspan><tspan x="272">106</tspan><tspan x="512">107</tspan><tspan x="752">108</tspan></text>
<text class="a" y="77"><tspan x="270">175</tspan><tspan x="510">150</tspan><tspan x="750">175</tspan><tspan x="990">200</tspan></text>
<text class="b" y="90"><tspan x="270">126542</tspan><tspan x="510">127142</tspan><tspan x="750">127842</tspan><tspan x="990">128642</tspan></text>
<text class="c" y="103"><tspan x="270">0.00%</tspan><tspan x="510">0.00%</tspan><tspan x="750">25.00%</tspan><tspan x="990">25.00%</tspan></text>
</g>

<g id="row28" transform="translate(0,4012)">
<use href="#staff"/>
<g class="G"><use href="#n" x="481"/><rect class="qG" x="496" y="-7" width="450" height="14"/><use href="#n" x="961"/></g>
<g class="R" transform="translate(0,15)"><use href="#n" x="31"/><use href="#n" x="91"/><use href="#n" x="151"/><use href="#n" x="211"/><use href="#n" x="271"/><use href="#n" x="301"/><use href="#n" x="331"/><use href="#n" x="391"/><use href="#n" x="451"/></g>
<g class="B" transform="translate(0,45)"><use href="#n" x="511"/><use href="#n" x="631"/><use href="#n" x="691"/><use href="#n" x="751"/><use href="#n" x="871"/><use href="#n" x="931"/><use href="#n" x="961"/></g>
<g class="O" transform="translate(0,60)"><use href="#n" x="31"/><use href="#n" x="151"/><use href="#n" x="211"/><use href="#n" x="301"/><use href="#n" x="391"/></g>
<use href="#q" x="240"/><use href="#q" x="720"/>
<text class="t" y="-20"><tspan x="277">=161</tspan><tspan x="757">=163</tspan></text>
<text class="m" y="-7"><tspan x="32">109</tspan><tspan x="272">110</tspan><tspan x="512">111</tspan><tspan x="752">112</tspan></text>
<text class="a" y="77"><tspan x="270">175</tspan><tspan x="510">200</tspan><tspan x="750">175</tspan><tspan x="990">225</tspan></text>
<text class="b" y="90"><tspan x="270">129342</tspan><tspan x="510">130142</tspan><tspan x="750">130842</tspan><tspan x="990">131742</tspan></text>
<text class="c" y="103"><tspan x="270">25.00%</tspan><tspan x="510">25.00%</tspan><tspan x="750">25.00%</tspan><tspan x="990">25.00%</tspan></text>
</g>

<g id="row29" transform="translate(0,4153)">
<use href="#staff"/>
<g class="G"><rect x="871" y="-3.5" width="105" height="7"/><use href="#n" x="871"/></g>
<g class="R" transform="translate(0,15)"><rect x="271" y="-3.5" width="105" height="7"/><use href="#n" x="271"/><rect x="751" y="-3.5" width="105" height="7"/><use href="#n" x="751"/></g>
<g class="Y" transform="translate(0,30)"><rect x="511" y="-3.5" width="225" height="7"/><use href="#n" x="511"/></g>
<g class="B" transform="translate(0,45)"><rect x="31" y="-3.5" width="225" height="7"/><use href="#n" x="31"/><use href="#n" x="391"/><use href="#n" x="496"/></g>
<g class="O" transform="translate(0,60)"><rect x="406" y="-3.5" width="75" height="7"/><use href="#n" x="406"/></g>
<use href="#q" x="720"/>
<text class="t" y="-20"><tspan x="757">=159</tspan></text>
<text class="m" y="-7"><tspan x="32">113</tspan><tspan x="272">114</tspan><tspan x="512">115</tspan><tspan x="752">116</tspan></text>
<text class="a" y="77"><tspan x="270">70</tspan><tspan x="510">136</tspan><tspan x="750">70</tspan><tspan x="990">92</tspan></text>
<text class="b" y="90"><tspan x="270">132022</tspan><tspan x="510">132566</tspan><tspan x="750">132846</tspan><tspan x="990">133214</tspan></text>
<text class="c" y="103"><tspan x="270">25.00%</tspan><tspan x="510">25.00%</tspan><tspan x="750">25.00%</tspan><tspan x="990">25.00%</tspan></text>
</g>

<g id="row30" transform="translate(0,4294)">
<use href="#staff"/>
<g class="G"><use href="#s" x="31"/><use href="#s" x="91"/><use href="#s" x="151"/><use href="#s" x="211"/><use href="#n" x="271"/><use href="#n" x="331"/><use href="#n" x="391"/><use href="#n" x="451"/></g>
<g class="R" transform="translate(0,15)"><use href="#s" x="61"/><use href="#s" x="121"/><use href="#s" x="181"/><use href="#s" x="241"/><use href="#n" x="301"/><use href="#n" x="361"/><use href="#n" x="421"/><use href="#n" x="481"/></g>
<g class="Y" transform="translate(0,30)"><use href="#n" x="511"/><use href="#n" x="571"/><use href="#n" x="631"/><use href="#n" x="691"/><rect x="751" y="-3.5" width="90" height="7"/><use href="#n" x="751"/></g>
<g class="B" transform="translate(0,45)"><use href="#n" x="541"/><use href="#n" x="601"/><use href="#n" x="661"/><use href="#n" x="721"/><rect x="871" y="-3.5" width="105" height="7"/><use href="#n" x="871"/></g>
<g class="O" transform="translate(0,60)"><use href="#n" x="856"/></g>
<rect class="og" x="31" width="210" height="60"/>
<use href="#q"/><use href="#q" x="240"/><use href="#q" x="480"/><use href="#q" x="720"/>
<text class="t" y="-20"><tspan x="37">=163</tspan><tspan x="277">=162</tspan><tspan x="517">=162</tspan><tspan x="757">=162</tspan></text>
<text class="m" y="-7"><tspan x="32">117</tspan><tspan x="272">118</tspan><tspan x="512">119</tspan><tspan x="752">120</tspan></text>
<text class="a" y="77"><tspan x="270">200</tspan><tspan x="510">200</tspan><tspan x="750">200</tspan><tspan x="990">114</tspan></text>
<text class="b" y="90"><tspan x="270">134014</tspan><tspan x="510">134814</tspan><tspan x="750">135614</tspan><tspan x="990">136070</tspan></text>
<text class="c" y="103"><tspan x="270">50.00%</tspan><tspan x="510">50.00%</tspan><tspan x="750">50.00%</tspan><tspan x="990">50.00%</tspan></text>
</g>

<g id="row31" transform="translate(0,4435)">
<use href="#staff"/>
<g class="G"><use href="#n" x="31"/><use href="#n" x="241"/><use href="#n" x="511"/><use href="#n" x="721"/></g>
<g class="Y" transform="translate(0,30)"><use href="#n" x="91"/><use href="#n" x="181"/><use href="#n" x="331"/><use href="#n" x="421"/><use href="#n" x="571"/><use href="#n" x="661"/><use href="#n" x="811"/></g>
<g class="B" transform="translate(0,45)"><use href="#n" x="61"/><use href="#n" x="121"/><use href="#n" x="151"/><use href="#n" x="211"/><use href="#n" x="301"/><use href="#n" x="361"/><use href="#n" x="391"/><use href="#n" x="451"/><use href="#n" x="541"/><use href="#n" x="601"/><use href="#n" x="631"/><use href="#n" x="691"/><use href="#n" x="781"/><use href="#n" x="841"/><use href="#n" x="871"/></g>
<g class="O" transform="translate(0,60)"><use href="#n" x="481"/></g>
<use href="#q" x="720"/>
<text class="t" y="-20"><tspan x="757">=163</tspan></text>
<text class="m" y="-7"><tspan x="32">121</tspan><tspan x="272">122</tspan><tspan x="512">123</tspan><tspan x="752">124</tspan></text>
<text class="a" y="77"><tspan x="270">200</tspan><tspan x="510">175</tspan><tspan x="750">200</tspan><tspan x="990">100</tspan></text>
<text class="b" y="90"><tspan x="270">136870</tspan><tspan x="510">137570</tspan><tspan x="750">138370</tspan><tspan x="990">138770</tspan></text>
<text class="c" y="103"><tspan x="270">50.00%</tspan><tspan x="510">50.00%</tspan><tspan x="750">50.00%</tspan><tspan x="990">50.00%</tspan></text>
</g>

<g id="row32" transform="translate(0,4576)">
<rect class="yb" x="31" y="-10" width="210" height="80"/>
<use href="#staff"/>
<g class="G"><rect class="pG" x="496" y="-7" width="360" height="14"/><use href="#n" x="901"/></g>
<g class="R" transform="translate(0,15)"><rect class="xR" x="16" y="-7" width="240" height="14"/><use href="#n" x="871"/></g>
<g class="Y" transform="translate(0,30)"><rect class="pY" x="256" y="-7" width="600" height="14"/></g>
<g class="B" transform="translate(0,45)"><rect class="xB" x="16" y="-7" width="240" height="14"/><rect class="pB" x="256" y="-7" width="240" height="14"/><use href="#n" x="931"/><use href="#n" x="961"/></g>
<g class="O" transform="translate(0,60)"><use href="#n" x="946"/><use href="#n" x="976"/></g>
<rect class="og" x="31" width="210" height="60"/>
<use href="#q"/><use href="#q" x="240"/><use href="#q" x="480"/><use href="#q" x="720"/>
<text class="t" y="-20"><tspan x="37">=162</tspan><tspan x="277">=162</tspan><tspan x="517">=162</tspan><tspan x="757">=162</tspan></text>
<text class="m" y="-7"><tspan x="32">125</tspan><tspan x="272">126</tspan><tspan x="512">127</tspan><tspan x="752">128</tspan></text>
<text class="a" y="77"><tspan x="270">400</tspan><tspan x="510">400</tspan><tspan x="750">400</tspan><tspan x="990">350</tspan></text>
<text class="b" y="90"><tspan x="270">140370</tspan><tspan x="510">141970</tspan><tspan x="750">143570</tspan><tspan x="990">144970</tspan></text>
<text class="c" y="103"><tspan x="270">75.00%</tspan><tspan x="510">75.00%</tspan><tspan x="750">75.00%</tspan><tspan x="990">75.00%</tspan></text>
</g>

<g id="row33" transform="translate(0,4717)">
<use href="#staff"/>
<g class="G"><use href="#n" x="31"/><use href="#n" x="211"/><use href="#n" x="301"/><use href="#n" x="361"/><use href="#n" x="421"/><use href="#n" x="511"/><use href="#n" x="526"/><use href="#n" x="541"/><use href="#n" x="556"/><use href="#n" x="691"/><use href="#n" x="706"/><use href="#n" x="721"/><use href="#n" x="736"/><use href="#n" x="871"/><use href="#n" x="886"/><use href="#n" x="901"/><use href="#n" x="916"/></g>
<g class="R" transform="translate(0,15)"><use href="#n" x="61"/><use href="#n" x="181"/><use href="#n" x="241"/><use href="#n" x="451"/></g>
<g class="Y" transform="translate(0,30)"><use href="#n" x="91"/><use href="#n" x="151"/><use href="#n" x="271"/><use href="#n" x="391"/><use href="#n" x="466"/></g>
<g class="B" transform="translate(0,45)"><use href="#n" x="121"/><use href="#n" x="331"/><rect class="pB" x="556" y="-7" width="120" height="14"/><rect class="pB" x="736" y="-7" width="120" height="14"/><rect x="931" y="-3.5" width="45" height="7"/><use href="#n" x="931"/></g>
<g class="O" transform="translate(0,60)"><rect class="pO" x="556" y="-7" width="120" height="14"/><rect class="pO" x="736" y="-7" width="120" height="14"/></g>
<rect class="op" x="526" width="4" height="60"/><rect class="ob" x="530" width="461" height="60"/>
<use href="#q"/><use href="#q" x="240"/><use href="#q" x="720"/>
<text class="t" y="-20"><tspan x="37">=161</tspan><tspan x="277">=163</tspan><tspan x="757">=161</tspan></text>
<text class="m" y="-7"><tspan x="32">129</tspan><tspan x="272">130</tspan><tspan x="512">131</tspan><tspan x="752">132</tspan></text>
<text class="a" y="77"><tspan x="270">200</tspan><tspan x="510">200</tspan><tspan x="750">400</tspan><tspan x="990">334</tspan></text>
<text class="b" y="90"><tspan x="270">145770</tspan><tspan x="510">146570</tspan><tspan x="750">149670</tspan><tspan x="990">152342</tspan></text>
<text class="c" y="103"><tspan x="270">75.00%</tspan><tspan x="510">75.00%</tspan><tspan x="750">63.50%</tspan><tspan x="990">51.00%</tspan></text>
</g>

<g id="row34" transform="translate(0,4858)">
<use href="#staff"/>
<g class="G"><rect class="xG" x="496" y="-7" width="240" height="14"/><rect class="pG" x="736" y="-7" width="240" height="14"/></g>
<g class="R" transform="translate(0,15)"><rect class="pR" x="16" y="-7" width="240" height="14"/></g>
<g class="Y" transform="translate(0,30)"><rect class="pY" x="256" y="-7" width="240" height="14"/><rect class="xY" x="496" y="-7" width="240" height="14"/><rect class="pY" x="736" y="-7" width="240" height="14"/></g>
<g class="B" transform="translate(0,45)"><rect class="pB" x="16" y="-7" width="480" height="14"/></g>
<rect class="ob" x="31" width="960" height="60"/><rect class="og" x="511" width="210" height="60"/>
<use href="#q"/><use href="#q" x="240"/><use href="#q" x="480"/><use href="#q" x="720"/>
<text class="t" y="-20"><tspan x="37">=161</tspan><tspan x="277">=162</tspan><tspan x="517">=162</tspan><tspan x="757">=163</tspan></text>
<text class="m" y="-7"><tspan x="32">133</tspan><tspan x="272">134</tspan><tspan x="512">135</tspan><tspan x="752">136</tspan></text>
<text class="a" y="77"><tspan x="270">400</tspan><tspan x="510">400</tspan><tspan x="750">400</tspan><tspan x="990">400</tspan></text>
<text class="b" y="90"><tspan x="270">155542</tspan><tspan x="510">158742</tspan><tspan x="750">161942</tspan><tspan x="990">165142</tspan></text>
<text class="c" y="103"><tspan x="270">38.50%</tspan><tspan x="510">26.00%</tspan><tspan x="750">38.50%</tspan><tspan x="990">26.00%</tspan></text>
</g>

<g id="row35" transform="translate(0,4999)">
<use href="#staff"/>
<g class="G"><rect x="781" y="-3.5" width="45" height="7"/><rect class="pG" x="496" y="-7" width="300" height="14"/><use href="#n" x="841"/><use href="#n" x="871"/><rect x="901" y="-3.5" width="45" height="7"/><use href="#n" x="901"/><use href="#n" x="961"/></g>
<g class="R" transform="translate(0,15)"><rect class="pR" x="16" y="-7" width="240" height="14"/><use href="#n" x="961"/></g>
<g class="Y" transform="translate(0,30)"><rect class="pY" x="256" y="-7" width="300" height="14"/><rect x="781" y="-3.5" width="45" height="7"/><use href="#n" x="781"/><rect x="901" y="-3.5" width="45" height="7"/><use href="#n" x="901"/></g>
<g class="B" transform="translate(0,45)"><use href="#n" x="31"/><use href="#n" x="61"/><use href="#n" x="241"/></g>
<g class="O" transform="translate(0,60)"><use href="#n" x="271"/><use href="#n" x="301"/><use href="#n" x="481"/></g>
<rect class="ob" x="31" width="960" height="60"/>
<use href="#q"/><use href="#q" x="240"/><use href="#q" x="480"/><use href="#q" x="720"/>
<text class="t" y="-20"><tspan x="37">=161</tspan><tspan x="277">=163</tspan><tspan x="517">=162</tspan><tspan x="757">=163</tspan></text>
<text class="m" y="-7"><tspan x="32">137</tspan><tspan x="272">138</tspan><tspan x="512">139</tspan><tspan x="752">140</tspan></text>
<text class="a" y="77"><tspan x="270">275</tspan><tspan x="510">275</tspan><tspan x="750">250</tspan><tspan x="990">261</tspan></text>
<text class="b" y="90"><tspan x="270">167342</tspan><tspan x="510">169542</tspan><tspan x="750">171542</tspan><tspan x="990">173630</tspan></text>
<text class="c" y="103"><tspan x="270">13.50%</tspan><tspan x="510">1.00%</tspan><tspan x="750">0.00%</tspan><tspan x="990">0.00%</tspan></text>
</g>

<g id="row36" transform="translate(0,5140)">
<use href="#staff"/>
<g class="G"><rect x="511" y="-3.5" width="75" height="7"/><use href="#n" x="511"/><rect x="601" y="-3.5" width="75" height="7"/><use href="#n" x="601"/><rect x="691" y="-3.5" width="285" height="7"/><use href="#n" x="691"/></g>
<g class="R" transform="translate(0,15)"><rect class="pR" x="16" y="-7" width="240" height="14"/><use href="#n" x="481"/></g>
<g class="Y" transform="translate(0,30)"><rect class="pY" x="256" y="-7" width="150" height="14"/><rect x="511" y="-3.5" width="75" height="7"/><use href="#n" x="511"/><rect x="601" y="-3.5" width="75" height="7"/><use href="#n" x="601"/><rect x="691" y="-3.5" width="285" height="7"/><use href="#n" x="691"/></g>
<g class="B" transform="translate(0,45)"><use href="#n" x="31"/><use href="#n" x="61"/><use href="#n" x="241"/><use href="#n" x="451"/></g>
<g class="O" transform="translate(0,60)"><use href="#n" x="271"/><use href="#n" x="301"/><use href="#n" x="421"/></g>
<rect class="ob" x="31" width="19" height="60"/><rect class="op" x="50" width="11" height="60"/>
<use href="#q"/><use href="#q" x="240"/>
<text class="t" y="-20"><tspan x="37">=161</tspan><tspan x="277">=162</tspan></text>
<text class="m" y="-7"><tspan x="32">141</tspan><tspan x="272">142</tspan><tspan x="512">143</tspan><tspan x="752">144</tspan></text>
<text class="a" y="77"><tspan x="270">275</tspan><tspan x="510">250</tspan><tspan x="750">234</tspan><tspan x="990">90</tspan></text>
<text class="b" y="90"><tspan x="270">175130</tspan><tspan x="510">176130</tspan><tspan x="750">177066</tspan><tspan x="990">177426</tspan></text>
<text class="c" y="103"><tspan x="270">0.00%</tspan><tspan x="510">0.00%</tspan><tspan x="750">0.00%</tspan><tspan x="990">0.00%</tspan></text>
</g>

<g id="row37" transform="translate(0,5281)">
<use href="#staff"/>
<g class="G"><rect x="451" y="-3.5" width="540" height="7"/><use href="#n" x="451"/></g>
<g class="R" transform="translate(0,15)"><use href="#n" x="428.5"/></g>
<g class="Y" transform="translate(0,30)"><rect x="31" y="-3.5" width="60" height="7"/><use href="#n" x="31"/><use href="#n" x="406"/></g>
<g class="B" transform="translate(0,45)"><rect x="106" y="-3.5" width="285" height="7"/><use href="#n" x="106"/></g>
<text class="m" y="-7"><tspan x="32">145</tspan><tspan x="272">146</tspan><tspan x="512">147</tspan><tspan x="752">148</tspan></text>
<text class="a" y="77"><tspan x="270">95</tspan><tspan x="510">111</tspan><tspan x="750">48</tspan><tspan x="990">48</tspan></text>
<text class="b" y="90"><tspan x="270">177806</tspan><tspan x="510">178250</tspan><tspan x="750">178442</tspan><tspan x="990">178634</tspan></text>
<text class="c" y="103"><tspan x="270">0.00%</tspan><tspan x="510">0.00%</tspan><tspan x="750">0.00%</tspan><tspan x="990">0.00%</tspan></text>
</g>

<g id="row38" transform="translate(0,5422)">
<use href="#staff"/>
<g class="G"><rect x="31" y="-3.5" width="840" height="7"/></g>
<g class="B" transform="translate(0,45)"><use href="#n" x="901"/></g>
<g class="O" transform="translate(0,60)"><use href="#n" x="886"/></g>
<text class="m" y="-7"><tspan x="32">149</tspan><tspan x="272">150</tspan><tspan x="512">151</tspan><tspan x="752">152</tspan></text>
<text class="a" y="77"><tspan x="270">48</tspan><tspan x="510">48</tspan><tspan x="750">48</tspan><tspan x="990">74</tspan></text>
<text class="b" y="90"><tspan x="270">178826</tspan><tspan x="510">179018</tspan><tspan x="750">179210</tspan><tspan x="990">179506</tspan></text>
<text class="c" y="103"><tspan x="270">0.00%</tspan><tspan x="510">0.00%</tspan><tspan x="750">0.00%</tspan><tspan x="990">0.00%</tspan></text>
</g>
</svg>
